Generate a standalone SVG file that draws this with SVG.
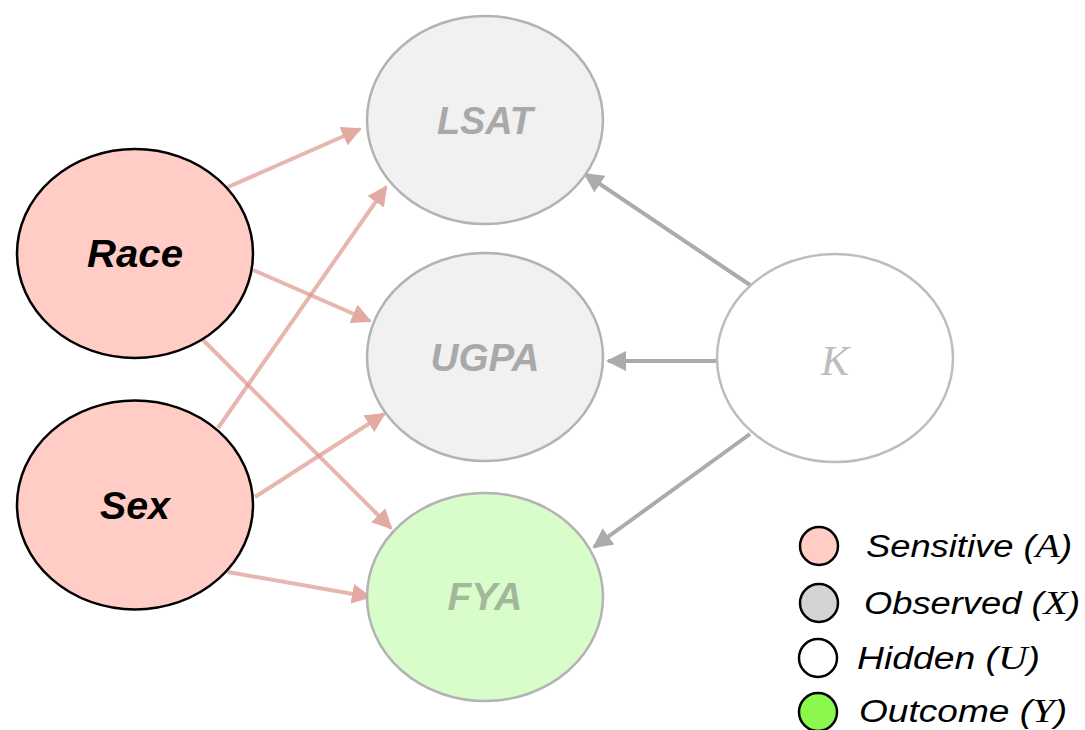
<svg xmlns="http://www.w3.org/2000/svg" width="1085" height="730" viewBox="0 0 1085 730">
  <defs>
    <marker id="ah-red" viewBox="0 0 10 10" refX="9" refY="5" markerWidth="5" markerHeight="5" markerUnits="strokeWidth" orient="auto">
      <path d="M0,0 L10,5 L0,10 z" fill="#e3aaa2"/>
    </marker>
    <marker id="ah-gray" viewBox="0 0 10 10" refX="9" refY="5" markerWidth="5" markerHeight="5" markerUnits="strokeWidth" orient="auto">
      <path d="M0,0 L10,5 L0,10 z" fill="#ababab"/>
    </marker>
  </defs>
  <style>
    .sens { fill: #ffcdc5; stroke: #000; stroke-width: 2.5; }
    .obs { fill: #f1f1f1; stroke: #b3b3b3; stroke-width: 2.5; }
    .hid { fill: #fff; stroke: #bdbdbd; stroke-width: 2.5; }
    .out { fill: #d9fccb; stroke: #b3b3b3; stroke-width: 2.5; }
    .lbl { font-family: "Liberation Sans", Arial, sans-serif; font-weight: bold; font-style: italic; font-size: 38px; text-anchor: middle; }
    .red { stroke: #dc978d; stroke-opacity: 0.7; stroke-width: 4; fill: none; marker-end: url(#ah-red); }
    .gry { stroke: #ababab; stroke-width: 4; fill: none; marker-end: url(#ah-gray); }
    .leg { font-family: "Liberation Sans", Arial, sans-serif; font-style: italic; font-size: 31px; fill: #000; }
    .math { font-family: "Liberation Serif", "Times New Roman", serif; font-style: italic; }
    .legc { stroke: #000; stroke-width: 2.5; }
  </style>

  <g id="edges">
    <line class="red" x1="228" y1="187" x2="360" y2="129"/>
    <line class="red" x1="253" y1="270" x2="370" y2="321"/>
    <line class="red" x1="203" y1="340" x2="391" y2="528"/>
    <line class="red" x1="218" y1="428" x2="386" y2="187"/>
    <line class="red" x1="255" y1="497" x2="384" y2="414"/>
    <line class="red" x1="228" y1="572" x2="370" y2="597"/>
    <line class="gry" x1="750" y1="285" x2="585" y2="174"/>
    <line class="gry" x1="717" y1="361" x2="608" y2="361"/>
    <line class="gry" x1="750" y1="434" x2="594" y2="547"/>
  </g>

  <g id="node-race">
    <ellipse class="sens" cx="135" cy="253.5" rx="118" ry="104.5"/>
    <text class="lbl" x="135" y="267" fill="#000" textLength="96" lengthAdjust="spacingAndGlyphs">Race</text>
  </g>
  <g id="node-sex">
    <ellipse class="sens" cx="135" cy="505" rx="118" ry="104.5"/>
    <text class="lbl" x="135" y="519" fill="#000" textLength="70" lengthAdjust="spacingAndGlyphs">Sex</text>
  </g>
  <g id="node-lsat">
    <ellipse class="obs" cx="485" cy="120" rx="118" ry="104"/>
    <text class="lbl" x="485" y="134" fill="#a9a9a9" textLength="96" lengthAdjust="spacingAndGlyphs">LSAT</text>
  </g>
  <g id="node-ugpa">
    <ellipse class="obs" cx="485" cy="357" rx="118" ry="104"/>
    <text class="lbl" x="485" y="371" fill="#a9a9a9" textLength="109" lengthAdjust="spacingAndGlyphs">UGPA</text>
  </g>
  <g id="node-fya">
    <ellipse class="out" cx="485" cy="597" rx="118" ry="104"/>
    <text class="lbl" x="485" y="610" fill="#a3b89a" textLength="75" lengthAdjust="spacingAndGlyphs">FYA</text>
  </g>
  <g id="node-k">
    <ellipse class="hid" cx="835" cy="358" rx="118" ry="104"/>
    <text x="835" y="375" text-anchor="middle" font-family="'Liberation Serif', 'Times New Roman', serif" font-style="italic" font-size="42" fill="#bdbdbd">K</text>
  </g>

  <g id="legend">
    <circle class="legc" cx="819" cy="546" r="19" fill="#ffcdc5"/>
    <text class="leg" x="866" y="557" textLength="206" lengthAdjust="spacingAndGlyphs">Sensitive (<tspan class="math" font-size="34">A</tspan>)</text>
    <circle class="legc" cx="819" cy="603" r="19" fill="#d3d3d3"/>
    <text class="leg" x="864" y="614" textLength="216" lengthAdjust="spacingAndGlyphs">Observed (<tspan class="math" font-size="34">X</tspan>)</text>
    <circle class="legc" cx="818" cy="658" r="19" fill="#fff"/>
    <text class="leg" x="857" y="669" textLength="183" lengthAdjust="spacingAndGlyphs">Hidden (<tspan class="math" font-size="34">U</tspan>)</text>
    <circle class="legc" cx="818" cy="712" r="19" fill="#8bf84e"/>
    <text class="leg" x="859" y="722" textLength="208" lengthAdjust="spacingAndGlyphs">Outcome (<tspan class="math" font-size="34">Y</tspan>)</text>
  </g>
</svg>
